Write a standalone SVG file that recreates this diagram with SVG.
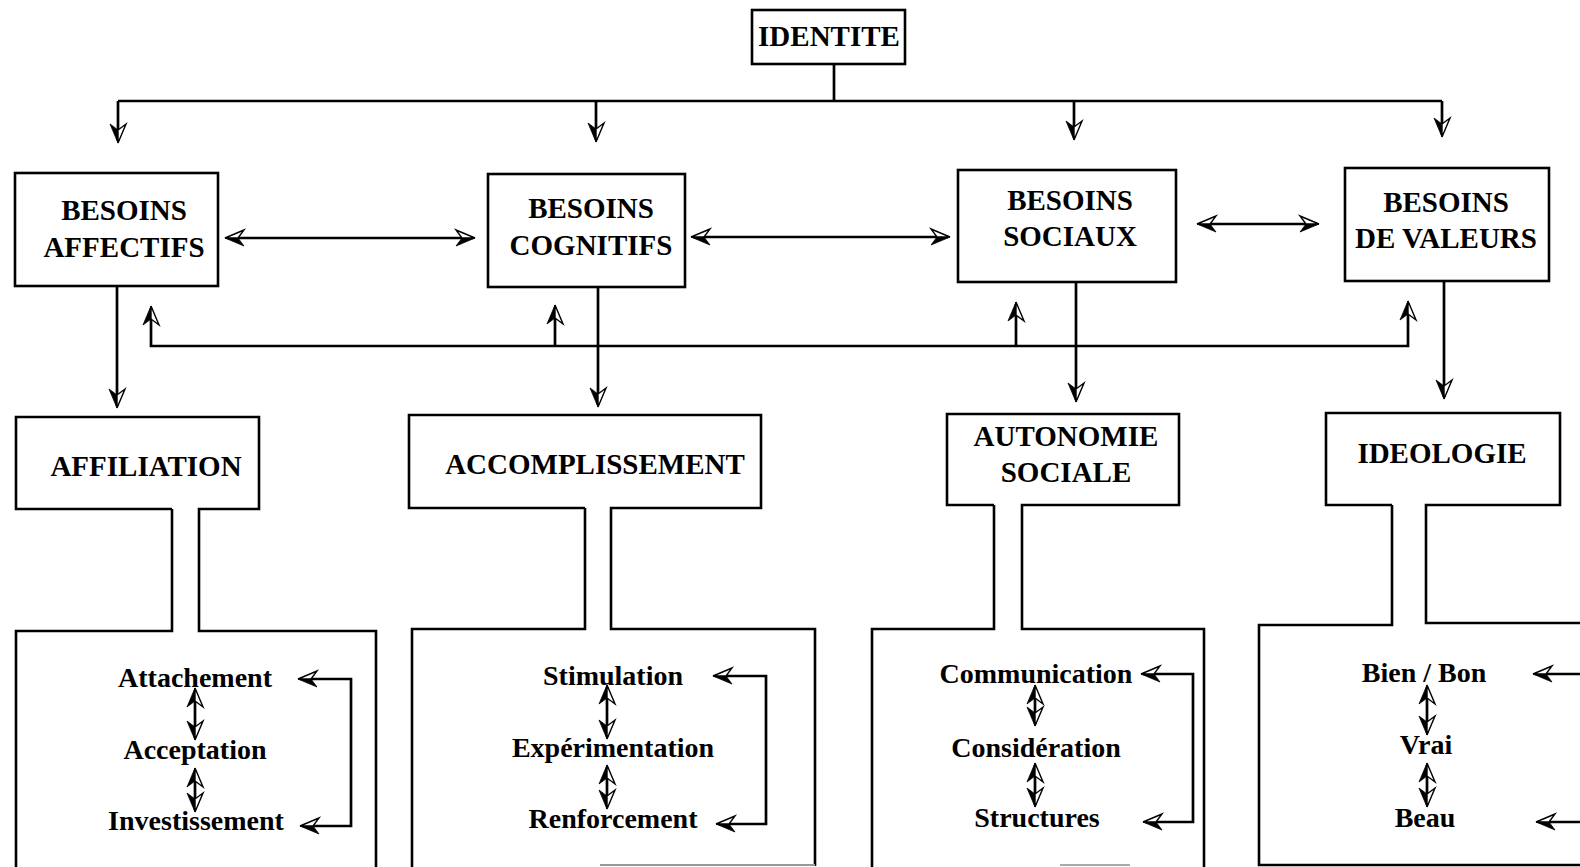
<svg xmlns="http://www.w3.org/2000/svg" width="1580" height="867" viewBox="0 0 1580 867">
<style>
.bx{fill:#fff;stroke:#000;stroke-width:2.6}
.sh{fill:none;stroke:#000;stroke-width:2.6}
.t{font-family:"Liberation Serif","Times New Roman",serif;font-weight:bold;font-size:28px;text-anchor:middle;fill:#000}
.h{font-size:29px}
.c{fill:none;stroke:#000;stroke-width:2.7}
</style>
<defs>
<marker id="aA" viewBox="-2 -10 22 20" refX="17" refY="0" markerWidth="22" markerHeight="20" markerUnits="userSpaceOnUse" orient="auto" overflow="visible">
<path d="M19,0 L0,8 L6,0 Z" fill="#000" stroke="#000" stroke-width="0.8"/>
<path d="M19,0 L0,-8 L6,0 Z" fill="#fff" stroke="#000" stroke-width="1.4"/>
</marker>
<marker id="aB" viewBox="-2 -10 22 20" refX="17" refY="0" markerWidth="22" markerHeight="20" markerUnits="userSpaceOnUse" orient="auto" overflow="visible">
<path d="M19,0 L0,-8 L6,0 Z" fill="#000" stroke="#000" stroke-width="0.8"/>
<path d="M19,0 L0,8 L6,0 Z" fill="#fff" stroke="#000" stroke-width="1.4"/>
</marker>
<marker id="sB" viewBox="-2 -10 22 20" refX="17" refY="0" markerWidth="22" markerHeight="20" markerUnits="userSpaceOnUse" orient="auto-start-reverse" overflow="visible">
<path d="M19,0 L0,-8 L6,0 Z" fill="#000" stroke="#000" stroke-width="0.8"/>
<path d="M19,0 L0,8 L6,0 Z" fill="#fff" stroke="#000" stroke-width="1.4"/>
</marker>
</defs>

<g id="connectors">
<path class="c" d="M834,64 V101"/>
<path class="c" d="M118,101 H1442"/>
<path class="c" d="M118,101 V141" marker-end="url(#aA)"/>
<path class="c" d="M596,101 V140" marker-end="url(#aA)"/>
<path class="c" d="M1074,101 V138" marker-end="url(#aA)"/>
<path class="c" d="M1442,101 V135" marker-end="url(#aA)"/>
<path class="c" d="M227,238 H473" marker-start="url(#sB)" marker-end="url(#aA)"/>
<path class="c" d="M693,237 H948" marker-start="url(#sB)" marker-end="url(#aA)"/>
<path class="c" d="M1199,224 H1317" marker-start="url(#sB)" marker-end="url(#aA)"/>
<path class="c" d="M117,286 V406" marker-end="url(#aA)"/>
<path class="c" d="M598,287 V405" marker-end="url(#aA)"/>
<path class="c" d="M1076,282 V400" marker-end="url(#aA)"/>
<path class="c" d="M1444,281 V397" marker-end="url(#aA)"/>
<path class="c" d="M151,308 V346 H1408 V303" marker-start="url(#sB)" marker-end="url(#aB)"/>
<path class="c" d="M555,346 V307" marker-end="url(#aB)"/>
<path class="c" d="M1016,346 V304" marker-end="url(#aB)"/>
<path class="c" d="M195,690 V738" marker-start="url(#sB)" marker-end="url(#aA)"/>
<path class="c" d="M195,770 V810" marker-start="url(#sB)" marker-end="url(#aA)"/>
<path class="c" d="M300,679 H351 V826 H302" marker-start="url(#sB)" marker-end="url(#aB)"/>
<path class="c" d="M607,687 V737" marker-start="url(#sB)" marker-end="url(#aA)"/>
<path class="c" d="M607,767 V807" marker-start="url(#sB)" marker-end="url(#aA)"/>
<path class="c" d="M715,676 H766 V824 H718" marker-start="url(#sB)" marker-end="url(#aB)"/>
<path class="c" d="M1035,687 V724" marker-start="url(#sB)" marker-end="url(#aA)"/>
<path class="c" d="M1035,765 V805" marker-start="url(#sB)" marker-end="url(#aA)"/>
<path class="c" d="M1143,674 H1193 V822 H1145" marker-start="url(#sB)" marker-end="url(#aB)"/>
<path class="c" d="M1427,687 V733" marker-start="url(#sB)" marker-end="url(#aA)"/>
<path class="c" d="M1427,765 V805" marker-start="url(#sB)" marker-end="url(#aA)"/>
<path class="c" d="M1582,674 H1535" marker-end="url(#aB)"/>
<path class="c" d="M1582,822 H1538" marker-end="url(#aB)"/>
</g>

<g id="identite">
<rect class="bx" x="752" y="10" width="153" height="54"/>
<text class="t h" x="829" y="46">IDENTITE</text>
</g>

<g id="besoins-affectifs">
<rect class="bx" x="15" y="173" width="203" height="113"/>
<text class="t h" x="124" y="220">BESOINS</text>
<text class="t h" x="124" y="257">AFFECTIFS</text>
</g>

<g id="besoins-cognitifs">
<rect class="bx" x="488" y="174" width="197" height="113"/>
<text class="t h" x="591" y="218">BESOINS</text>
<text class="t h" x="591" y="255">COGNITIFS</text>
</g>

<g id="besoins-sociaux">
<rect class="bx" x="958" y="170" width="218" height="112"/>
<text class="t h" x="1070" y="210">BESOINS</text>
<text class="t h" x="1070" y="246">SOCIAUX</text>
</g>

<g id="besoins-valeurs">
<rect class="bx" x="1345" y="168" width="204" height="113"/>
<text class="t h" x="1446" y="212">BESOINS</text>
<text class="t h" x="1446" y="248">DE VALEURS</text>
</g>

<g id="affiliation">
<path class="sh" d="M172,509 H16 V417 H259 V509 H199 V631 H376 V870 M172,509 V631 H16 V870"/>
<text class="t h" x="146" y="476">AFFILIATION</text>
<text class="t" x="195" y="687">Attachement</text>
<text class="t" x="195" y="759">Acceptation</text>
<text class="t" x="196" y="830">Investissement</text>
</g>

<g id="accomplissement">
<path class="sh" d="M585,508 H409 V415 H761 V508 H611 V629 H815 V866 M585,508 V629 H412 V870"/>
<path d="M600,865 H815" stroke="#999" stroke-width="2" fill="none"/>
<text class="t h" x="595" y="474">ACCOMPLISSEMENT</text>
<text class="t" x="613" y="685">Stimulation</text>
<text class="t" x="613" y="757">Expérimentation</text>
<text class="t" x="613" y="828">Renforcement</text>
</g>

<g id="autonomie-sociale">
<path class="sh" d="M994,505 H947 V414 H1179 V505 H1022 V629 H1204 V867 M994,505 V629 H872 V867"/>
<path d="M1060,865 H1130" stroke="#aaa" stroke-width="2" fill="none"/>
<text class="t h" x="1066" y="446">AUTONOMIE</text>
<text class="t h" x="1066" y="482">SOCIALE</text>
<text class="t" x="1036" y="683">Communication</text>
<text class="t" x="1036" y="757">Considération</text>
<text class="t" x="1037" y="827">Structures</text>
</g>

<g id="ideologie">
<path class="sh" d="M1392,505 H1326 V413 H1560 V505 H1426 V623 H1582 M1392,505 V625 H1259 V865 H1582"/>
<text class="t h" x="1442" y="463">IDEOLOGIE</text>
<text class="t" x="1424" y="682">Bien / Bon</text>
<text class="t" x="1426" y="754">Vrai</text>
<text class="t" x="1425" y="827">Beau</text>
</g>
</svg>
